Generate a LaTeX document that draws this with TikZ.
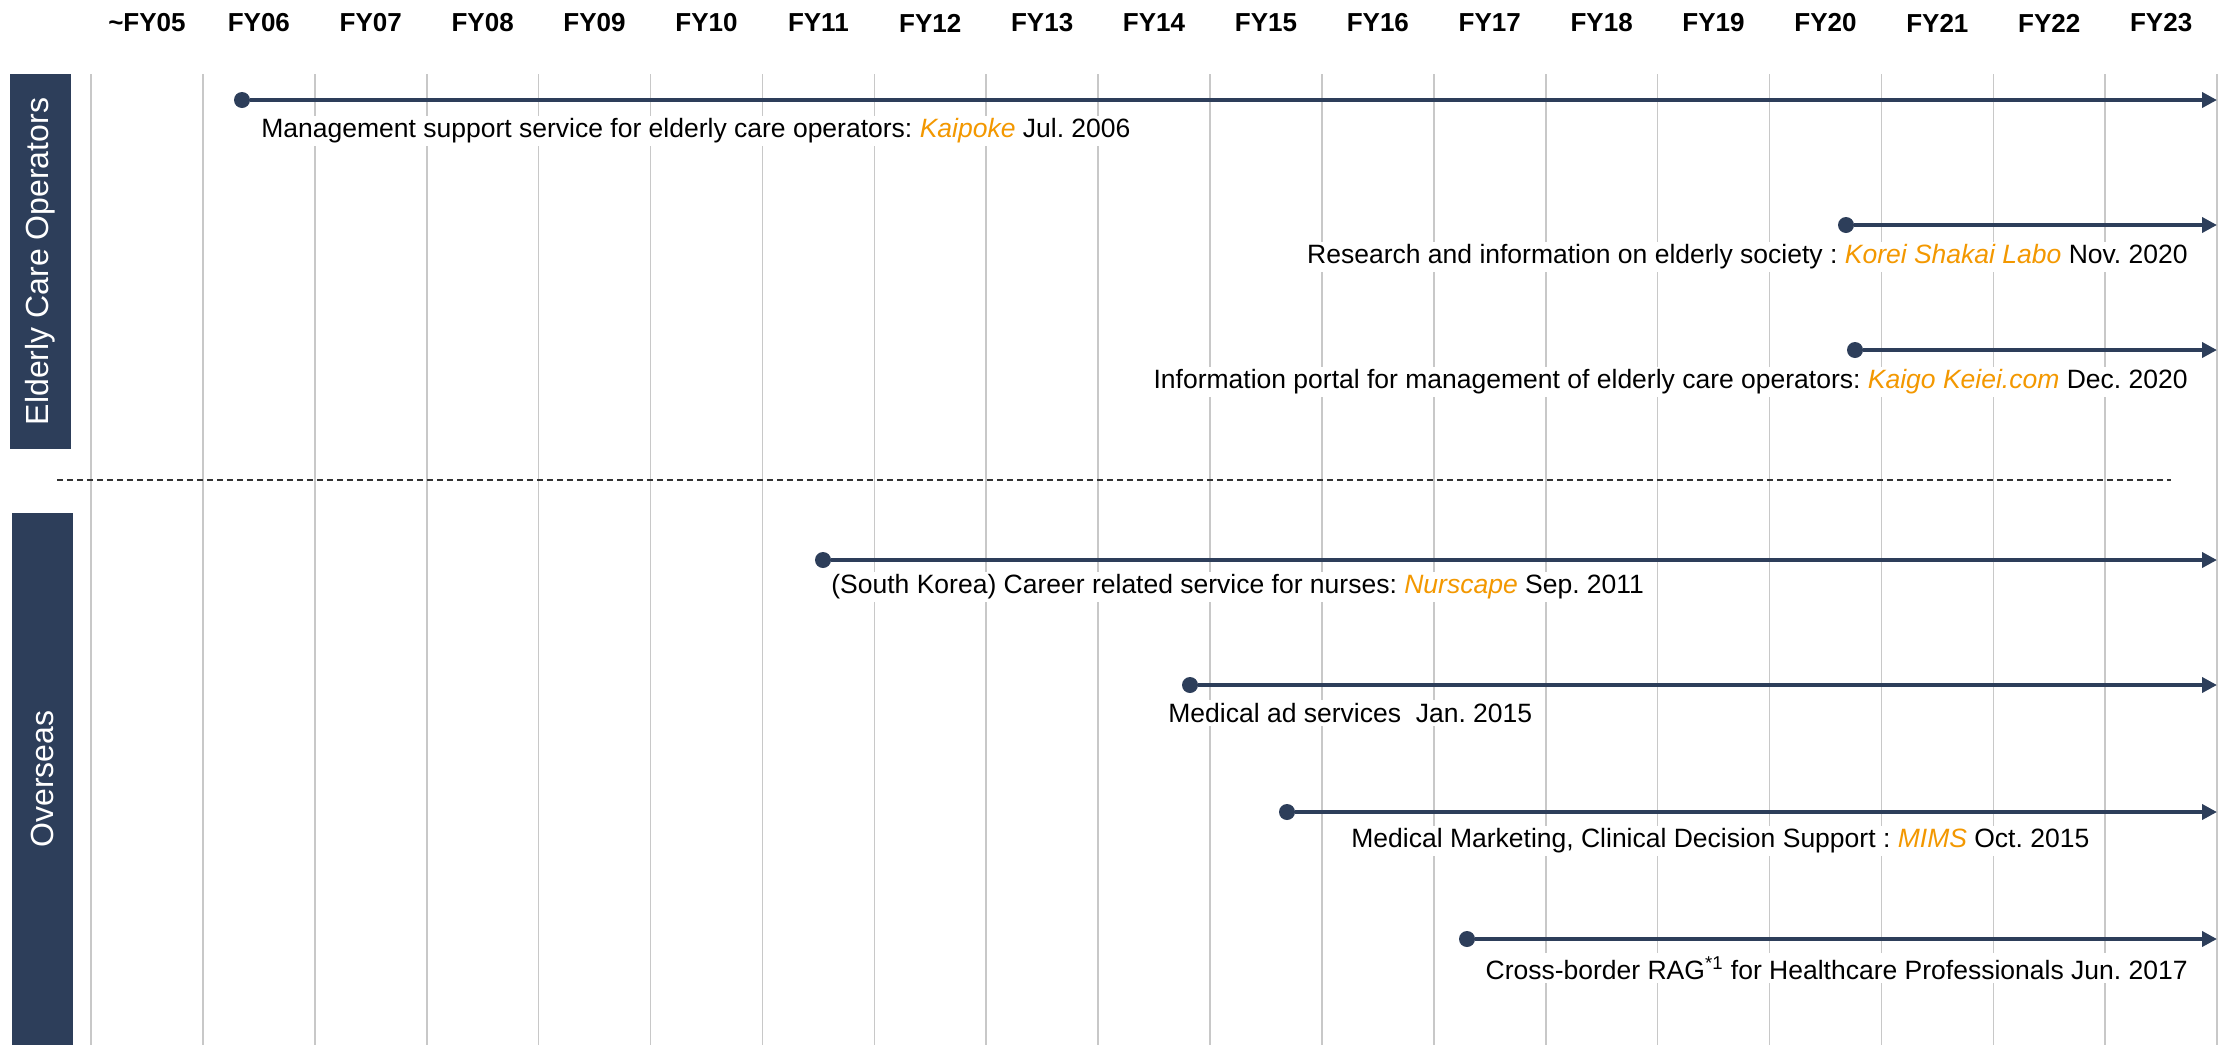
\documentclass[tikz,border=0pt]{standalone}
\usepackage{fontspec}
\setmainfont{Liberation Sans}
\usepackage{xcolor}
\definecolor{navy}     {HTML}{2D3E5A}
\definecolor{brandtext}{HTML}{F39800}
\definecolor{gridgray} {HTML}{C8C8C8}
\usetikzlibrary{arrows.meta, positioning, calc}
\frenchspacing
\tikzset{
    yearlabel/.style={font=\bfseries\fontsize{13}{15}\selectfont},
    gridline/.style={gridgray, line width=0.8pt},
    sectionbar/.style={fill=navy, text=white, rotate=90, inner sep=0pt,
                       font=\fontsize{16}{19}\selectfont},
    startdot/.style={circle, fill=navy, minimum size=8pt, inner sep=0pt},
    timeline/.style={-{Triangle[length=7.5pt, width=7.5pt]}, line width=2.2pt, navy},
    service/.style={fill=white, inner sep=1.5pt,
                    font=\fontsize{13.25}{16}\selectfont},
    divider/.style={dash pattern=on 3pt off 2pt, line width=0.6pt, black!80},
}
\newcommand{\svc}[1]{\textcolor{brandtext}{\textit{#1}}}

\begin{document}
\begin{tikzpicture}[x=0.5pt, y=-0.5pt]
    \useasboundingbox (0,0) rectangle (2234,1045);
    % year grid
    \foreach \i in {0,...,19}
        \draw[gridline] ({91+\i*111.9},74) -- ({91+\i*111.9},1045);
    \foreach \yr [count=\i from 0] in {\textasciitilde FY05, FY06, FY07, FY08, FY09,
            FY10, FY11, FY12, FY13, FY14, FY15, FY16, FY17, FY18, FY19, FY20,
            FY21, FY22, FY23}
        \node[yearlabel] (year-\i) at ({91+(\i+0.5)*111.9},23) {\yr};
    % section bars
    \node[sectionbar, minimum width=187.5pt, minimum height=30.5pt]
        (elderly) at (40.5,261.5) {Elderly Care Operators};
    \node[sectionbar, minimum width=266pt, minimum height=30.5pt]
        (overseas) at (42.5,779) {Overseas};
    \coordinate (div-l) at (57,480);
    \coordinate (div-r) at (2171,480);
    \draw[divider] (div-l) -- (div-r);
    % Elderly care operators
    \node[startdot] (kaipoke) at (242,100) {};
    \coordinate (kaipoke-end) at (2217,100);
    \draw[timeline] (kaipoke) -- (kaipoke-end);
    \node[service, anchor=west] (kaipoke-text) at (258,131)
        {Management support service for elderly care operators: \svc{Kaipoke} Jul. 2006};
    \node[startdot] (korei) at (1846,225) {};
    \coordinate (korei-end) at (2217,225);
    \draw[timeline] (korei) -- (korei-end);
    \node[service, anchor=east] (korei-text) at (2191,257)
        {Research and information on elderly society : \svc{Korei Shakai Labo} Nov. 2020};
    \node[startdot] (kaigo) at (1855,350) {};
    \coordinate (kaigo-end) at (2217,350);
    \draw[timeline] (kaigo) -- (kaigo-end);
    \node[service, anchor=east] (kaigo-text) at (2191,382)
        {Information portal for management of elderly care operators: \svc{Kaigo Keiei.com} Dec. 2020};
    % Overseas
    \node[startdot] (nurscape) at (823,560) {};
    \coordinate (nurscape-end) at (2217,560);
    \draw[timeline] (nurscape) -- (nurscape-end);
    \node[service, anchor=west] (nurscape-text) at (828,587)
        {(South Korea) Career related service for nurses: \svc{Nurscape} Sep. 2011};
    \node[startdot] (medad) at (1190,685) {};
    \coordinate (medad-end) at (2217,685);
    \draw[timeline] (medad) -- (medad-end);
    \node[service, anchor=west] (medad-text) at (1165,713)
        {Medical ad services\ \ Jan. 2015};
    \node[startdot] (mims) at (1287,812) {};
    \coordinate (mims-end) at (2217,812);
    \draw[timeline] (mims) -- (mims-end);
    \node[service, anchor=west] (mims-text) at (1348,841)
        {Medical Marketing, Clinical Decision Support : \svc{MIMS} Oct. 2015};
    \node[startdot] (rag) at (1467,939) {};
    \coordinate (rag-end) at (2217,939);
    \draw[timeline] (rag) -- (rag-end);
    \node[service, anchor=east] (rag-text) at (2191,968)
        {Cross-border RAG\textsuperscript{*1} for Healthcare Professionals Jun. 2017};
\end{tikzpicture}
\end{document}
